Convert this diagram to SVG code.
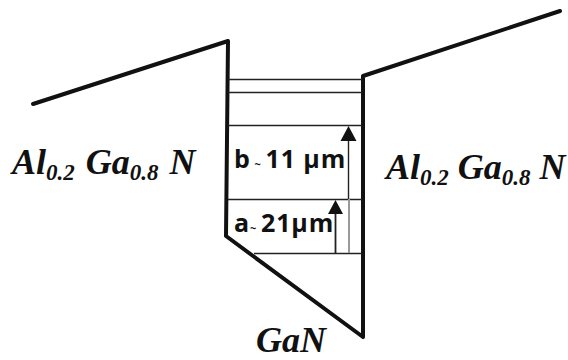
<svg xmlns="http://www.w3.org/2000/svg" width="568" height="360" viewBox="0 0 568 360">
<defs>
<style>
.w{fill:none;stroke:#111;stroke-width:4;stroke-linejoin:round;stroke-linecap:round}
.l{fill:none;stroke:#222;stroke-width:1.6}
.h{fill:#111}
.t{font-family:"Liberation Serif",serif;font-style:italic;font-weight:700;font-size:36px;fill:#111}
.s{font-size:23px}
.c{font-family:"Open Sans","Liberation Sans",sans-serif;font-weight:700;font-size:25px;letter-spacing:.9px;fill:#111}
.m{font-size:11px}
</style>
</defs>
<g id="connectors">
<path class="w" d="M33 104L228 41L226 236L363 337L363 76L560 11"/>
<path class="l" d="M228 79.500H362M228 92.500H362M228 125.500H362M228 199.500H362M254 253.500H362"/>
<path style="fill:none;stroke:#222;stroke-width:1.4" d="M348.500 140V199"/>
<path style="fill:none;stroke:#999;stroke-width:2" d="M349 199V253"/>
<path style="fill:none;stroke:#222;stroke-width:1.8" d="M335.500 213V253"/>
<polygon class="h" points="348.500,126 356.500,141 340.500,141"/>
<polygon class="h" points="335.500,200 343,214 328,214"/>
</g>
<g id="label-left"><text class="t" x="12" y="174">Al<tspan class="s" dy="6">0.2</tspan><tspan dy="-6" dx="2"> Ga</tspan><tspan class="s" dy="6">0.8</tspan><tspan dy="-6" dx="2"> N</tspan></text></g>
<g id="label-right"><text class="t" x="386" y="179">Al<tspan class="s" dy="6">0.2</tspan><tspan dy="-6"> Ga</tspan><tspan class="s" dy="6">0.8</tspan><tspan dy="-6"> N</tspan></text></g>
<g id="label-gan"><text class="t" x="256" y="352">GaN</text></g>
<g id="label-b"><text class="c" x="234" y="168">b<tspan class="m"> ~ </tspan>11 µm</text></g>
<g id="label-a"><text class="c" x="234" y="232">a<tspan class="m">~ </tspan>21µm</text></g>
</svg>
